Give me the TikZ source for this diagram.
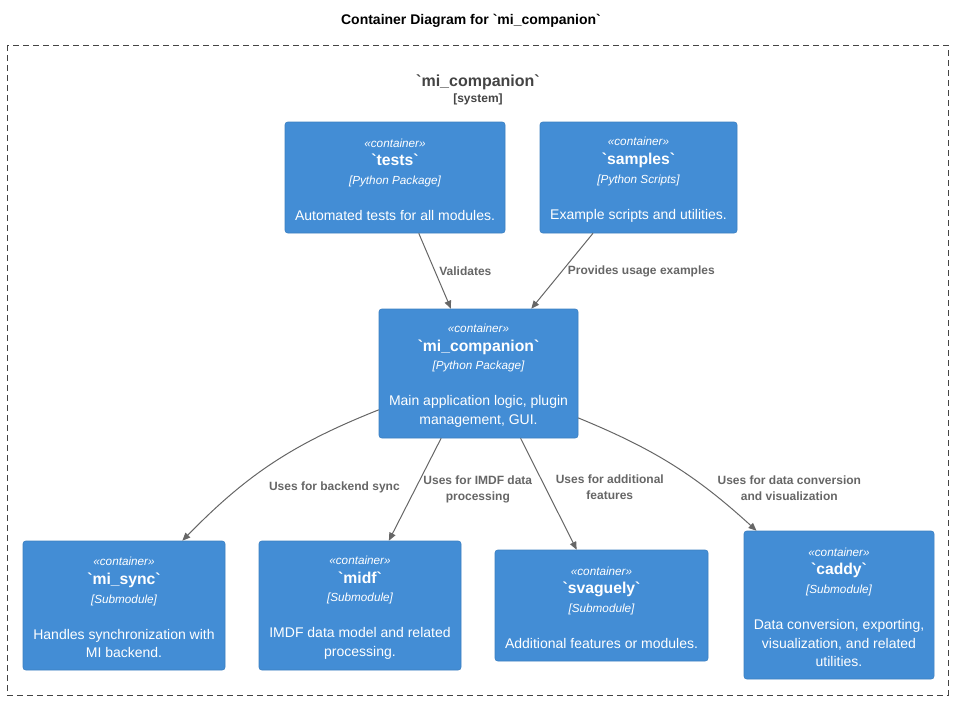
\documentclass[tikz,border=0pt]{standalone}
\usepackage{fontspec}
\setmainfont{Liberation Sans}
\usepackage{tikz}
\usetikzlibrary{arrows.meta}
\definecolor{boxblue}{HTML}{438DD5}
\definecolor{boxline}{HTML}{3C7FC0}
\definecolor{linkgray}{HTML}{666666}
\definecolor{framegray}{HTML}{444444}
\newcommand{\stype}{\fontsize{8.8}{14}\itshape\strut}
\newcommand{\cname}{\fontsize{11.8}{14}\bfseries}
\newcommand{\ctech}{\fontsize{8.8}{14}\itshape}
\newcommand{\bq}{\textasciigrave}
\tikzset{
  container/.style={
    rectangle,
    draw=boxline,
    fill=boxblue,
    rounded corners=2pt,
    text=white,
    align=center,
    inner sep=0pt,
    font=\fontsize{10.5}{14}\selectfont
  },
  link/.style={
    draw=linkgray,
    line width=0.75pt,
    -{Triangle[length=6pt,width=5pt]}
  }
}

\begin{document}
\begin{tikzpicture}[
  x=0.75pt, y=0.75pt,
  lbl/.style={text=linkgray, font=\fontsize{9}{12}\bfseries, align=center, inner sep=1pt},
  boundary/.style={draw=framegray, line width=0.75pt, dash pattern=on 4.5pt off 3pt}
]
  \useasboundingbox (0,0) rectangle (955,-700);

  % Title and system boundary
  \node[font=\fontsize{10.5}{13}\bfseries] (title) at (471,-21) {Container Diagram for \bq mi\_companion\bq};
  \draw[boundary] (7,-45) rectangle (948,-695);
  \node[text=framegray, align=center] (sys) at (478,-90) {{\fontsize{12}{14.25}\bfseries \bq mi\_companion\bq}\\{\fontsize{9}{14.25}\bfseries [system]}};

  % Top containers
  \node[container, minimum width=165pt, minimum height=83.25pt] (tests) at (395,-177.5) {{\stype «container»}\\{\cname \bq tests\bq}\\{\ctech [Python Package]}\\[13pt]Automated tests for all modules.};
  \node[container, minimum width=147.75pt, minimum height=83.25pt] (samples) at (638.5,-177.5) {{\stype «container»}\\{\cname \bq samples\bq}\\{\ctech [Python Scripts]}\\[13pt]Example scripts and utilities.};

  % Main package
  \node[container, minimum width=149.25pt, minimum height=96.75pt] (core) at (478.5,-373.5) {{\stype «container»}\\{\cname \bq mi\_companion\bq}\\{\ctech [Python Package]}\\[13pt]Main application logic, plugin\\management, GUI.};

  % Submodules
  \node[container, minimum width=151.5pt, minimum height=96.75pt] (misync) at (124,-605.5) {{\stype «container»}\\{\cname \bq mi\_sync\bq}\\{\ctech [Submodule]}\\[13pt]Handles synchronization with\\MI backend.};
  \node[container, minimum width=151.5pt, minimum height=96.75pt] (midf) at (360,-605.5) {{\stype «container»}\\{\cname \bq midf\bq}\\{\ctech [Submodule]}\\[13pt]IMDF data model and related\\processing.};
  \node[container, minimum width=159.75pt, minimum height=83.25pt] (svaguely) at (601.5,-605.5) {{\stype «container»}\\{\cname \bq svaguely\bq}\\{\ctech [Submodule]}\\[13pt]Additional features or modules.};
  \node[container, minimum width=142.5pt, minimum height=111pt] (caddy) at (839,-605) {{\stype «container»}\\{\cname \bq caddy\bq}\\{\ctech [Submodule]}\\[13pt]Data conversion, exporting,\\visualization, and related\\utilities.};

  % Relations
  \draw[link] (tests) -- (core) node[lbl, midway, right, xshift=2pt] {Validates};
  \draw[link] (samples) -- (core) node[lbl, midway, right, xshift=3pt] {Provides usage examples};
  \draw[link] (core.200) to[bend right=12] node[lbl, midway, anchor=west, xshift=-4pt, yshift=-18pt] {Uses for backend sync} (misync.48);
  \draw[link] (core.-120) -- (midf.66) node[lbl, midway, right, xshift=5pt] {Uses for IMDF data\\processing};
  \draw[link] (core.-57) -- (svaguely.114) node[lbl, midway, right, xshift=4pt, yshift=5pt] {Uses for additional\\features};
  \draw[link] (core.-24) to[bend left=10] node[lbl, midway, anchor=west, xshift=32pt, yshift=-17pt] {Uses for data conversion\\and visualization} (caddy.138);
\end{tikzpicture}
\end{document}
